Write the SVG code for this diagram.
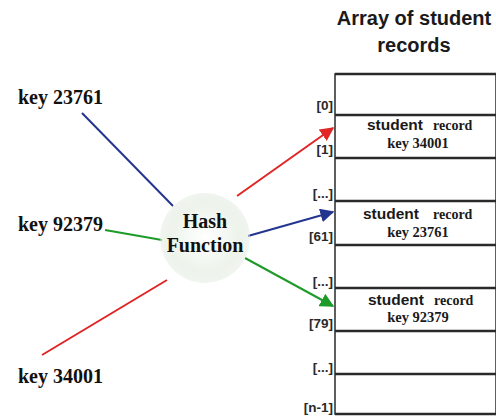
<svg xmlns="http://www.w3.org/2000/svg" width="496" height="418" viewBox="0 0 496 418">
<style>
.title{font-family:"Liberation Sans",Arial,sans-serif;font-size:20px;font-weight:bold;fill:#1a1a1a;text-anchor:middle}
.idx{font-family:"Liberation Sans",Arial,sans-serif;font-size:13.5px;font-weight:bold;fill:#2a2a2a;text-anchor:end}
.stu{font-family:"Liberation Sans",Arial,sans-serif;font-size:15.5px;font-weight:bold;fill:#1a1a1a}
.rec{font-family:"Liberation Serif","Times New Roman",serif;font-size:14px;font-weight:bold;fill:#1a1a1a}
.rkey{font-family:"Liberation Serif","Times New Roman",serif;font-size:14.5px;font-weight:bold;fill:#1a1a1a;text-anchor:middle}
.key{font-family:"Liberation Serif","Times New Roman",serif;font-size:20px;font-weight:bold;fill:#111}
.hash{font-family:"Liberation Serif","Times New Roman",serif;font-size:20px;font-weight:bold;fill:#111;text-anchor:middle}
.row{stroke:#2a2a2a;stroke-width:2.5;fill:none}
</style>
<defs>
<radialGradient id="g" cx="0.5" cy="0.5" r="0.5">
<stop offset="0" stop-color="#ffffff"/>
<stop offset="0.7" stop-color="#eef4ec"/>
<stop offset="1" stop-color="#e2ebe0" stop-opacity="0.5"/>
</radialGradient>
<marker id="ar" viewBox="0 0 10 10" refX="9" refY="5" markerWidth="7" markerHeight="7" orient="auto"><path d="M0,0 L10,5 L0,10 z" fill="#e02525"/></marker>
<marker id="ab" viewBox="0 0 10 10" refX="9" refY="5" markerWidth="7" markerHeight="7" orient="auto"><path d="M0,0 L10,5 L0,10 z" fill="#24358f"/></marker>
<marker id="ag" viewBox="0 0 10 10" refX="9" refY="5" markerWidth="7" markerHeight="7" orient="auto"><path d="M0,0 L10,5 L0,10 z" fill="#1e9a2a"/></marker>
</defs>
<g id="title">
<text class="title" x="414" y="25">Array of student</text>
<text class="title" x="414" y="52">records</text>
</g>
<g id="array">
<rect x="335" y="74" width="161" height="340" fill="none" stroke="#2a2a2a" stroke-width="1.5"/>
<line class="row" x1="335" y1="74" x2="496" y2="74"/>
<line class="row" x1="335" y1="115" x2="496" y2="115"/>
<line class="row" x1="335" y1="158" x2="496" y2="158"/>
<line class="row" x1="335" y1="201" x2="496" y2="201"/>
<line class="row" x1="335" y1="245" x2="496" y2="245"/>
<line class="row" x1="335" y1="288" x2="496" y2="288"/>
<line class="row" x1="335" y1="331" x2="496" y2="331"/>
<line class="row" x1="335" y1="374" x2="496" y2="374"/>
<line class="row" x1="335" y1="414" x2="496" y2="414"/>
<text class="idx" x="333" y="110">[0]</text>
<text class="idx" x="333" y="154">[1]</text>
<text class="idx" x="333" y="198">[...]</text>
<text class="idx" x="333" y="241">[61]</text>
<text class="idx" x="333" y="286">[...]</text>
<text class="idx" x="333" y="328">[79]</text>
<text class="idx" x="333" y="372">[...]</text>
<text class="idx" x="333" y="412">[n-1]</text>
</g>
<g id="rec1">
<text class="stu" x="367" y="130">student</text><text class="rec" x="433" y="130">record</text>
<text class="rkey" x="418" y="148">key 34001</text>
</g>
<g id="rec61">
<text class="stu" x="363" y="219">student</text><text class="rec" x="433" y="219">record</text>
<text class="rkey" x="418" y="237">key 23761</text>
</g>
<g id="rec79">
<text class="stu" x="368" y="305">student</text><text class="rec" x="434" y="305">record</text>
<text class="rkey" x="418" y="322">key 92379</text>
</g>
<g id="connectors" fill="none" stroke-width="2">
<line x1="82" y1="113" x2="173" y2="206" stroke="#24358f"/>
<line x1="105" y1="230" x2="162" y2="240" stroke="#1e9a2a"/>
<line x1="42" y1="355" x2="167" y2="280" stroke="#e02525"/>
<line x1="237" y1="196" x2="333" y2="128" stroke="#e02525" marker-end="url(#ar)"/>
<line x1="248" y1="236" x2="333" y2="212" stroke="#24358f" marker-end="url(#ab)"/>
<line x1="245" y1="258" x2="333" y2="306" stroke="#1e9a2a" marker-end="url(#ag)"/>
</g>
<g id="hash">
<circle cx="205" cy="238" r="45" fill="url(#g)"/>
<text class="hash" x="205" y="228">Hash</text>
<text class="hash" x="205" y="252">Function</text>
</g>
<g id="k1"><text class="key" x="18" y="104">key 23761</text></g>
<g id="k2"><text class="key" x="18" y="231">key 92379</text></g>
<g id="k3"><text class="key" x="18" y="383">key 34001</text></g>
</svg>
